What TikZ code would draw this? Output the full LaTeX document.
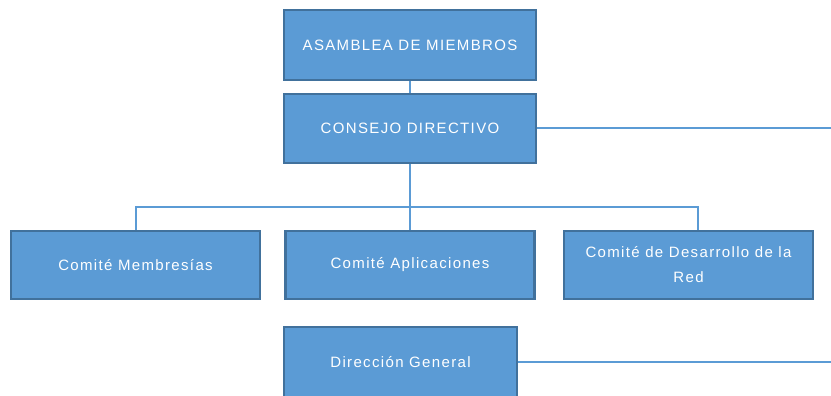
\documentclass[tikz,border=0pt]{standalone}
\usepackage{fontspec}
\newfontfamily\orgfont[LetterSpace=9]{Liberation Sans}
\usetikzlibrary{positioning}
\definecolor{boxblue}{HTML}{5B9BD5}
\definecolor{boxedge}{HTML}{41719C}
\tikzset{
  basic/.style = {draw=boxedge, line width=2.6pt, fill=boxblue, text=white,
                  font=\orgfont\fontsize{15}{25}\selectfont, rectangle, align=center, inner sep=0pt},
  unit/.style  = {basic, minimum width=249pt, minimum height=68pt},
  link/.style  = {draw=boxblue, line width=2pt}
}

\begin{document}
\begin{tikzpicture}[x=1pt,y=-1pt]
\clip (0,0) rectangle (831,396);
\node[unit, minimum width=252pt, minimum height=70pt] (asamblea) at (410,45) {ASAMBLEA DE MIEMBROS};
\node[unit, minimum width=252pt, minimum height=69pt] (consejo) at (410,128.5) {CONSEJO DIRECTIVO};
\node[unit] (membresias) at (135.5,265) {Comité Membresías};
\node[unit] (aplicaciones) at (410,265) {Comité Aplicaciones};
\node[unit] (desarrollo) at (688.5,265) {Comité de Desarrollo de la\\Red};
\node[unit, minimum width=233pt, minimum height=70pt] (direccion) at (400.5,362) {Dirección General};
\coordinate (bar) at (410,207);
\coordinate (edge1) at (831,127);
\coordinate (edge2) at (831,362);
% connectors
\draw[link] (asamblea) -- (consejo);
\draw[link] (consejo.east) -- (consejo.east -| edge1);
\draw[link] (consejo.south) -- (aplicaciones.north);
\draw[link] (membresias.north) -- (membresias.north |- bar)
  -- ([xshift=9.5pt]desarrollo.north |- bar) -- ([xshift=9.5pt]desarrollo.north);
\draw[link] (direccion.east) -- (edge2);
\end{tikzpicture}
\end{document}
